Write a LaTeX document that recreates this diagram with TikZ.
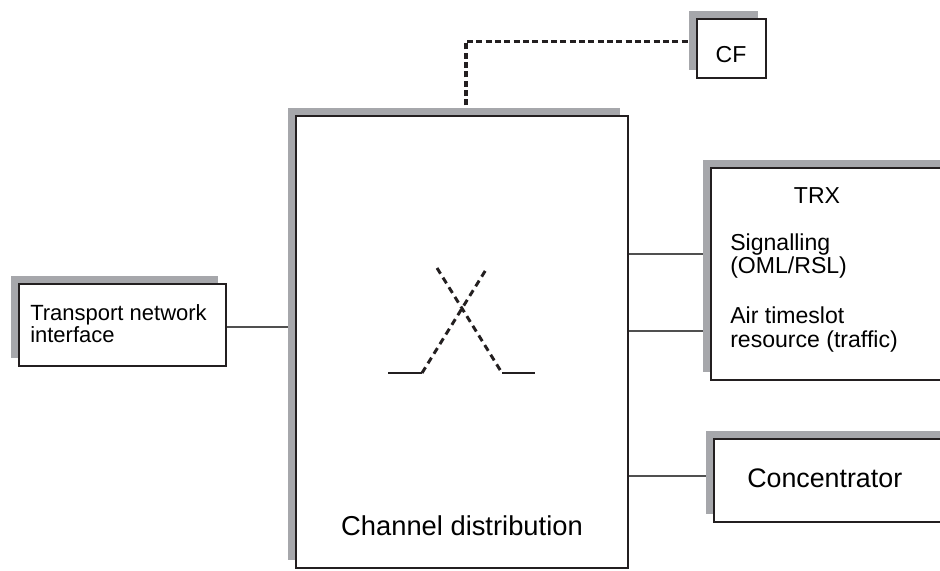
\documentclass[tikz,border=0pt]{standalone}
\usepackage{fontspec}
\setmainfont{Liberation Sans}
\usetikzlibrary{positioning,shadows,backgrounds,calc}
\definecolor{slate}{RGB}{166,167,171}
\definecolor{ink}{RGB}{35,31,32}
\definecolor{wire}{RGB}{80,80,80}
\tikzset{
  unitbox/.style={draw=ink,line width=2pt,fill=white,inner sep=0pt,
    drop shadow={shadow xshift=-6pt,shadow yshift=6pt,fill=slate,opacity=1}},
  link/.style={draw=wire,line width=0.8pt},
  dotlink/.style={draw=ink,line width=2.3pt,dash pattern=on 4.5pt off 2.5pt},
  txt/.style={inner sep=0pt,align=left},
}

\begin{document}
\begin{tikzpicture}[x=0.75pt,y=0.75pt]
  \clip (0,0) rectangle (940,-571);
  % blocks
  \node[unitbox,minimum width=249pt,minimum height=339pt] (main) at (462,-342) {};
  \node[unitbox,minimum width=51.75pt,minimum height=44.25pt] (cf) at (731.5,-48.5) {};
  \node[unitbox,minimum width=155.25pt,minimum height=61.5pt] (tni) at (122.5,-325) {};
  \node[unitbox,minimum width=187.5pt,minimum height=159pt] (trx) at (836,-274) {};
  \node[unitbox,minimum width=185.25pt,minimum height=62.25pt] (conc) at (837.5,-480.5) {};
  % texts (base = last line)
  \node[txt,anchor=base,font=\fontsize{20.5}{24}\selectfont] (chlabel) at (462,-535) {Channel distribution};
  \node[txt,anchor=base,font=\fontsize{17.3}{20}\selectfont] (cflabel) at (731,-62) {CF};
  \node[txt,anchor=base west,font=\fontsize{16.5}{16.5}\selectfont] (tnilabel) at (30,-342) {Transport network\\interface};
  \node[txt,anchor=base,font=\fontsize{17.3}{20}\selectfont] (trxlabel) at (817,-203) {TRX};
  \node[txt,anchor=base west,font=\fontsize{17.3}{15.75}\selectfont] (sig) at (730,-273) {Signalling\\(OML/RSL)};
  \node[txt,anchor=base west,font=\fontsize{17.3}{18}\selectfont] (air) at (730,-347) {Air timeslot\\resource (traffic)};
  \node[txt,anchor=base west,font=\fontsize{20.1}{24}\selectfont] (conclabel) at (747,-487) {Concentrator};
  % connectors
  \begin{scope}[on background layer]
    \fill[white] (0,0) rectangle (940,-571);
    \draw[dotlink] ([xshift=3pt]main.north) |- ([yshift=5.6pt]cf.west);
    \draw[link] ([yshift=-1.5pt]tni.east) -- ([yshift=-1.5pt]tni.east -| main.west);
    \draw[link] ([yshift=15pt]trx.west -| main.east) -- ([yshift=15pt]trx.west);
    \draw[link] ([yshift=-42.75pt]trx.west -| main.east) -- ([yshift=-42.75pt]trx.west);
    \draw[link] ([yshift=3.4pt]conc.west -| main.east) -- ([yshift=3.4pt]conc.west);
  \end{scope}
  % switch symbol
  \draw[ink,line width=1.9pt] (388,-373) -- (422,-373);
  \draw[ink,line width=1.9pt] (502,-373) -- (535,-373);
  \draw[ink,line width=2.2pt,dash pattern=on 5pt off 3.5pt] (422,-373) -- (487,-268);
  \draw[ink,line width=2.2pt,dash pattern=on 5pt off 3.5pt] (437,-268) -- (502,-373);
\end{tikzpicture}
\end{document}
